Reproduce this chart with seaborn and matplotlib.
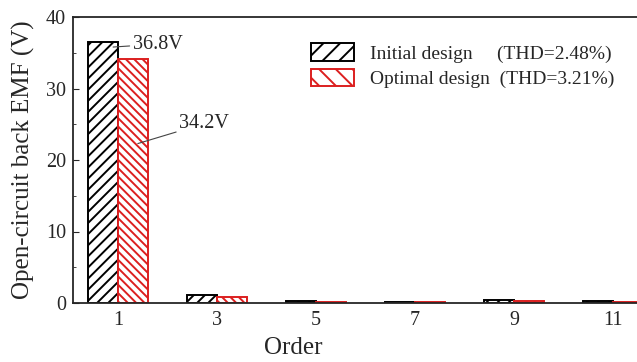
import matplotlib
matplotlib.use("Agg")
import matplotlib.pyplot as plt
import seaborn as sns
import pandas as pd
from matplotlib.patches import Patch
from matplotlib.ticker import MultipleLocator

orders = ["1", "3", "5", "7", "9", "11"]
initial = [36.5, 1.1, 0.25, 0.2, 0.4, 0.25]
optimal = [34.1, 0.9, 0.15, 0.15, 0.25, 0.15]
series = ["Initial design", "Optimal design"]
thd = ["(THD=2.48%)", "(THD=3.21%)"]

df = pd.DataFrame({
    "Order": orders * 2,
    "EMF": initial + optimal,
    "Design": [series[0]] * len(orders) + [series[1]] * len(orders),
})

sns.set_style("ticks")
plt.rcParams["font.family"] = ["Liberation Serif", "DejaVu Serif"]
plt.rcParams["hatch.linewidth"] = 1.4

fig = plt.figure(figsize=(6.37, 3.62), dpi=100)
ax = fig.add_axes([73/637, 59/362, 589.5/637, 286/362])

colors = ["black", "#dc1f1f"]
hatches = ["///", "\\\\\\\\"]
sns.barplot(data=df, x="Order", y="EMF", hue="Design", order=orders,
            hue_order=series, width=0.6, gap=0, ax=ax, legend=False,
            palette=["white", "white"], saturation=1)

for cont, col, h in zip(ax.containers, colors, hatches):
    for p in cont:
        p.set_facecolor("white")
        p.set_edgecolor(col)
        p.set_hatch(h)
        p.set_linewidth(1.4)

ax.set_xlim(-0.455, 5.5)
ax.set_ylim(0, 40)
ax.yaxis.set_major_locator(MultipleLocator(10))
ax.yaxis.set_minor_locator(MultipleLocator(5))
ax.tick_params(axis="y", which="major", direction="in", length=4, labelsize=14.5, pad=5)
ax.tick_params(axis="y", which="minor", direction="in", length=2)
ax.tick_params(axis="x", length=0, labelsize=14.5, pad=6)
for s in ax.spines.values():
    s.set_linewidth(1.3)
ax.set_xlabel("Order", fontsize=18)
ax.set_ylabel("Open-circuit back EMF (V)", fontsize=18, labelpad=8)
ax.xaxis.set_label_coords(0.373, -0.12)

ax.annotate("36.8V", xy=(-0.05, 35.8), xytext=(0.15, 36.2),
            fontsize=14.5, va="center", ha="left",
            arrowprops=dict(arrowstyle="-", color="#444444", lw=0.8,
                            shrinkA=0, shrinkB=0))
ax.annotate("34.2V", xy=(0.2, 22.3), xytext=(0.62, 25.1),
            fontsize=14.5, va="center", ha="left",
            arrowprops=dict(arrowstyle="-", color="#444444", lw=0.8,
                            shrinkA=0, shrinkB=0))

handles = [Patch(facecolor="white", edgecolor=c, hatch=h, linewidth=1.4)
           for c, h in zip(colors, ["//", "\\\\"])]
labels = [f"{series[0]}     {thd[0]}", f"{series[1]}  {thd[1]}"]
ax.legend(handles, labels, loc="upper left", bbox_to_anchor=(0.38, 0.955),
          frameon=False, fontsize=14, handlelength=2.25, handleheight=1.0,
          labelspacing=0.3, handletextpad=0.8, borderaxespad=0.3)

fig.savefig("out.png", dpi=100)
